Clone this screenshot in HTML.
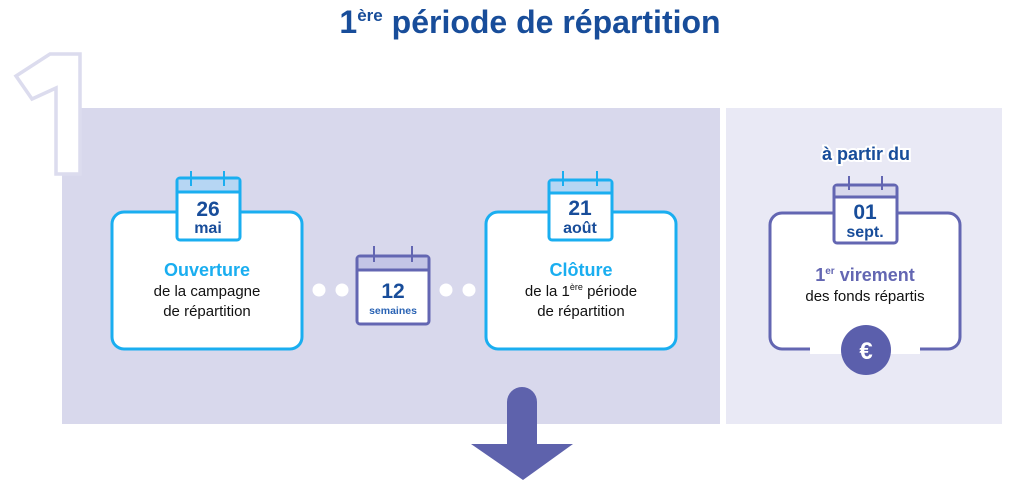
<!DOCTYPE html>
<html><head><meta charset="utf-8"><style>
html,body{margin:0;padding:0;background:#fff;width:1024px;height:487px;overflow:hidden}
svg text{font-family:"Liberation Sans",sans-serif;font-weight:bold}
</style></head><body>
<svg width="1024" height="487" viewBox="0 0 1024 487" xmlns="http://www.w3.org/2000/svg">
<rect x="62" y="108" width="658" height="316" fill="#d8d8ec"/>
<rect x="726" y="108" width="276" height="316" fill="#e9e9f5"/>
<line x1="723" y1="108" x2="723" y2="424" stroke="#fff" stroke-width="6" stroke-dasharray="8,6"/>
<path d="M50 54 H80 V174 H56 V88 L32 99 L16 76 Z" fill="#fff" stroke="#dcdcee" stroke-width="3.5"/>
<text x="530" y="33" text-anchor="middle" font-size="32" fill="#184d9a">1<tspan font-size="17" dy="-12">ère</tspan><tspan dy="12"> période de répartition</tspan></text>
<!-- box1 -->
<rect x="112" y="212" width="190" height="137" rx="12" fill="#fff" stroke="#1aaef0" stroke-width="3"/>
<rect x="177" y="178" width="63" height="62" rx="3" fill="#fff" stroke="#1aaef0" stroke-width="3"/>
<rect x="178.5" y="179.5" width="60" height="12" fill="#b6d6f3"/>
<line x1="177" y1="192" x2="240" y2="192" stroke="#1aaef0" stroke-width="3"/>
<line x1="191" y1="171" x2="191" y2="186" stroke="#1aaef0" stroke-width="2"/><line x1="224" y1="171" x2="224" y2="186" stroke="#1aaef0" stroke-width="2"/>
<text x="208" y="216" text-anchor="middle" font-size="21" fill="#184d9a">26</text>
<text x="208" y="233" text-anchor="middle" font-size="16" fill="#184d9a">mai</text>
<text x="207" y="276" text-anchor="middle" font-size="18" fill="#1aaef0">Ouverture</text>
<text x="207" y="296" text-anchor="middle" font-size="15" style="font-weight:normal" fill="#111">de la campagne</text>
<text x="207" y="316" text-anchor="middle" font-size="15" style="font-weight:normal" fill="#111">de répartition</text>
<!-- dots -->
<circle cx="319" cy="290" r="6.5" fill="#fff"/><circle cx="342" cy="290" r="6.5" fill="#fff"/>
<circle cx="446" cy="290" r="6.5" fill="#fff"/><circle cx="469" cy="290" r="6.5" fill="#fff"/>
<!-- center cal -->
<rect x="357" y="256" width="72" height="68" rx="3" fill="#fff" stroke="#6366b2" stroke-width="3"/>
<rect x="358.5" y="257.5" width="69" height="11" fill="#c4c5e6"/>
<line x1="357" y1="270" x2="429" y2="270" stroke="#6366b2" stroke-width="3"/>
<line x1="374" y1="246" x2="374" y2="262" stroke="#6366b2" stroke-width="2"/><line x1="412" y1="246" x2="412" y2="262" stroke="#6366b2" stroke-width="2"/>
<text x="393" y="298" text-anchor="middle" font-size="21" fill="#184d9a">12</text>
<text x="393" y="314" text-anchor="middle" font-size="10.5" fill="#2a63b4">semaines</text>
<!-- box2 -->
<rect x="486" y="212" width="190" height="137" rx="12" fill="#fff" stroke="#1aaef0" stroke-width="3"/>
<rect x="549" y="180" width="63" height="60" rx="3" fill="#fff" stroke="#1aaef0" stroke-width="3"/>
<rect x="550.5" y="181.5" width="60" height="11" fill="#b6d6f3"/>
<line x1="549" y1="193" x2="612" y2="193" stroke="#1aaef0" stroke-width="3"/>
<line x1="563" y1="171" x2="563" y2="186" stroke="#1aaef0" stroke-width="2"/><line x1="597" y1="171" x2="597" y2="186" stroke="#1aaef0" stroke-width="2"/>
<text x="580" y="215" text-anchor="middle" font-size="21" fill="#184d9a">21</text>
<text x="580" y="233" text-anchor="middle" font-size="16" fill="#184d9a">août</text>
<text x="581" y="276" text-anchor="middle" font-size="18" fill="#1aaef0">Clôture</text>
<text x="581" y="296" text-anchor="middle" font-size="15" style="font-weight:normal" fill="#111">de la 1<tspan font-size="9" dy="-6">ère</tspan><tspan dy="6"> période</tspan></text>
<text x="581" y="316" text-anchor="middle" font-size="15" style="font-weight:normal" fill="#111">de répartition</text>
<!-- right -->
<text x="866" y="160" text-anchor="middle" font-size="18" fill="#184d9a" stroke="#fff" stroke-width="4" paint-order="stroke">à partir du</text>
<rect x="770" y="213" width="190" height="136" rx="12" fill="#fff" stroke="#6366b2" stroke-width="3"/>
<rect x="834" y="185" width="63" height="58" rx="3" fill="#fff" stroke="#6366b2" stroke-width="3"/>
<rect x="835.5" y="186.5" width="60" height="10" fill="#d8d8ec"/>
<line x1="834" y1="197" x2="897" y2="197" stroke="#6366b2" stroke-width="3"/>
<line x1="849" y1="176" x2="849" y2="190" stroke="#6366b2" stroke-width="2"/><line x1="882" y1="176" x2="882" y2="190" stroke="#6366b2" stroke-width="2"/>
<text x="865" y="219" text-anchor="middle" font-size="21" fill="#184d9a">01</text>
<text x="865" y="237" text-anchor="middle" font-size="16" fill="#184d9a">sept.</text>
<text x="865" y="281" text-anchor="middle" font-size="18" fill="#6366b2">1<tspan font-size="10" dy="-7">er</tspan><tspan dy="7"> virement</tspan></text>
<text x="865" y="301" text-anchor="middle" font-size="15" style="font-weight:normal" fill="#111">des fonds répartis</text>
<rect x="810" y="340" width="110" height="14" fill="#fff"/>
<circle cx="866" cy="350" r="25" fill="#5b5fac"/>
<text x="866" y="359" text-anchor="middle" font-size="24" fill="#fff">€</text>
<!-- arrow -->
<path d="M507 402 A15 15 0 0 1 537 402 V444 H573 L523 480 L471 444 H507 Z" fill="#5e62ac"/>
</svg>
</body></html>
